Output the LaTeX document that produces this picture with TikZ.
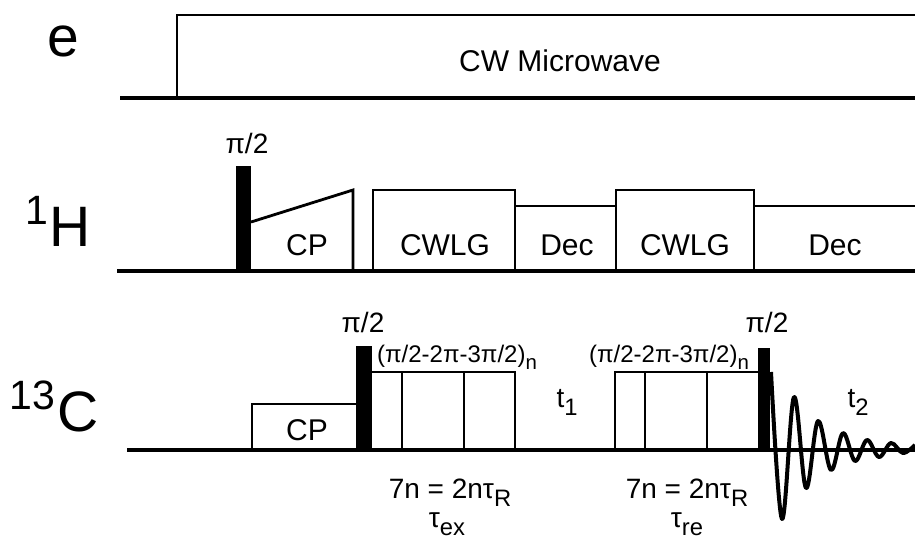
\documentclass[tikz,border=0pt]{standalone}
\usepackage{fontspec}
\setmainfont{Liberation Sans}
\newcommand{\lowtext}[1]{\raisebox{-.3em}{\scalebox{.85}{#1}}}
\newcommand{\uptext}[1]{\raisebox{22pt}{\fontsize{41}{44}\selectfont #1}\kern2pt}
\begin{document}
\begin{tikzpicture}[x=1pt,y=-1pt,
  line/.style={line width=4pt},
  pulse/.style={line width=2.8pt,line join=miter},
  hard/.style={fill=black},
  fid/.style={line width=4pt,line join=round},
  lab/.style={anchor=base,inner sep=0pt,font=\fontsize{28}{30}\selectfont},
  boxlab/.style={anchor=base,inner sep=0pt,font=\fontsize{30}{32}\selectfont},
  seq/.style={anchor=base,inner sep=0pt,font=\fontsize{24}{28}\selectfont},
  chan/.style={anchor=base,inner sep=0pt,font=\fontsize{57}{62}\selectfont}]
 \useasboundingbox (0,0) rectangle (915,539);
 % ---- channel e ----
 \node[chan] (e) at (63,56) {e};
 \draw[pulse] (177,98) -- (177,15) -- (915,15);
 \node[boxlab] (mw) at (560,71) {CW Microwave};
 \draw[line] (120,98) -- (915,98);
 % ---- channel 1H ----
 \node[chan] (h) at (58,246) {\uptext{1}H};
 \node[lab] (ph) at (247,153) {π/2};
 \draw[pulse] (251,222) -- (353,190) -- (353,270);
 \draw[pulse] (373,270) -- (373,190) -- (515,190) -- (515,270);
 \draw[pulse] (515,206) -- (616,206);
 \draw[pulse] (616,270) -- (616,190) -- (754,190) -- (754,270);
 \draw[pulse] (754,206) -- (915,206);
 \node[boxlab] (hcp) at (307,255) {CP};
 \node[boxlab] (hcw) at (445,255) {CWLG};
 \node[boxlab] (hd) at (567,255) {Dec};
 \node[boxlab] (hcx) at (685,255) {CWLG};
 \node[boxlab] (hf) at (835,255) {Dec};
 \fill[hard] (236,166) rectangle (251,270);
 \draw[line] (117,271) -- (915,271);
 % ---- channel 13C ----
 \node[chan] (c) at (54,431) {\uptext{13}C};
 \node[lab] (pa) at (363,332) {π/2};
 \node[lab] (pb) at (767,332) {π/2};
 \draw[pulse] (252,450) -- (252,404) -- (356,404);
 \draw[pulse] (372,372) -- (515,372) -- (515,450);
 \draw[pulse] (402,372) -- (402,450);
 \draw[pulse] (464,372) -- (464,450);
 \draw[pulse] (615,450) -- (615,372) -- (758,372);
 \draw[pulse] (645,372) -- (645,450);
 \draw[pulse] (707,372) -- (707,450);
 \node[boxlab] (ccp) at (307,440) {CP};
 \node[seq] (sa) at (457,362) {(π/2-2π-3π/2)\lowtext{n}};
 \node[seq] (sb) at (669,362) {(π/2-2π-3π/2)\lowtext{n}};
 \node[lab] (ta) at (567,407) {t\lowtext{1}};
 \node[lab] (tb) at (858,407) {t\lowtext{2}};
 \node[lab] (na) at (450,498) {7n = 2nτ\lowtext{R}};
 \node[lab] (nb) at (687,498) {7n = 2nτ\lowtext{R}};
 \node[lab] (tx) at (447,527) {τ\lowtext{ex}};
 \node[lab] (tr) at (687,527) {τ\lowtext{re}};
 \draw[line] (127,450) -- (915,450);
 \fill[hard] (356,346) rectangle (372,450);
 \fill[hard] (758,348) rectangle (770,450);
 \draw[fid] plot[smooth,tension=.6] coordinates {(771,372) (782,519) (794,397) (806,488) (818,421) (831,470) (843,433) (855,461) (867,440) (879,457) (891,443) (903,453) (915,445)};
\end{tikzpicture}
\end{document}
